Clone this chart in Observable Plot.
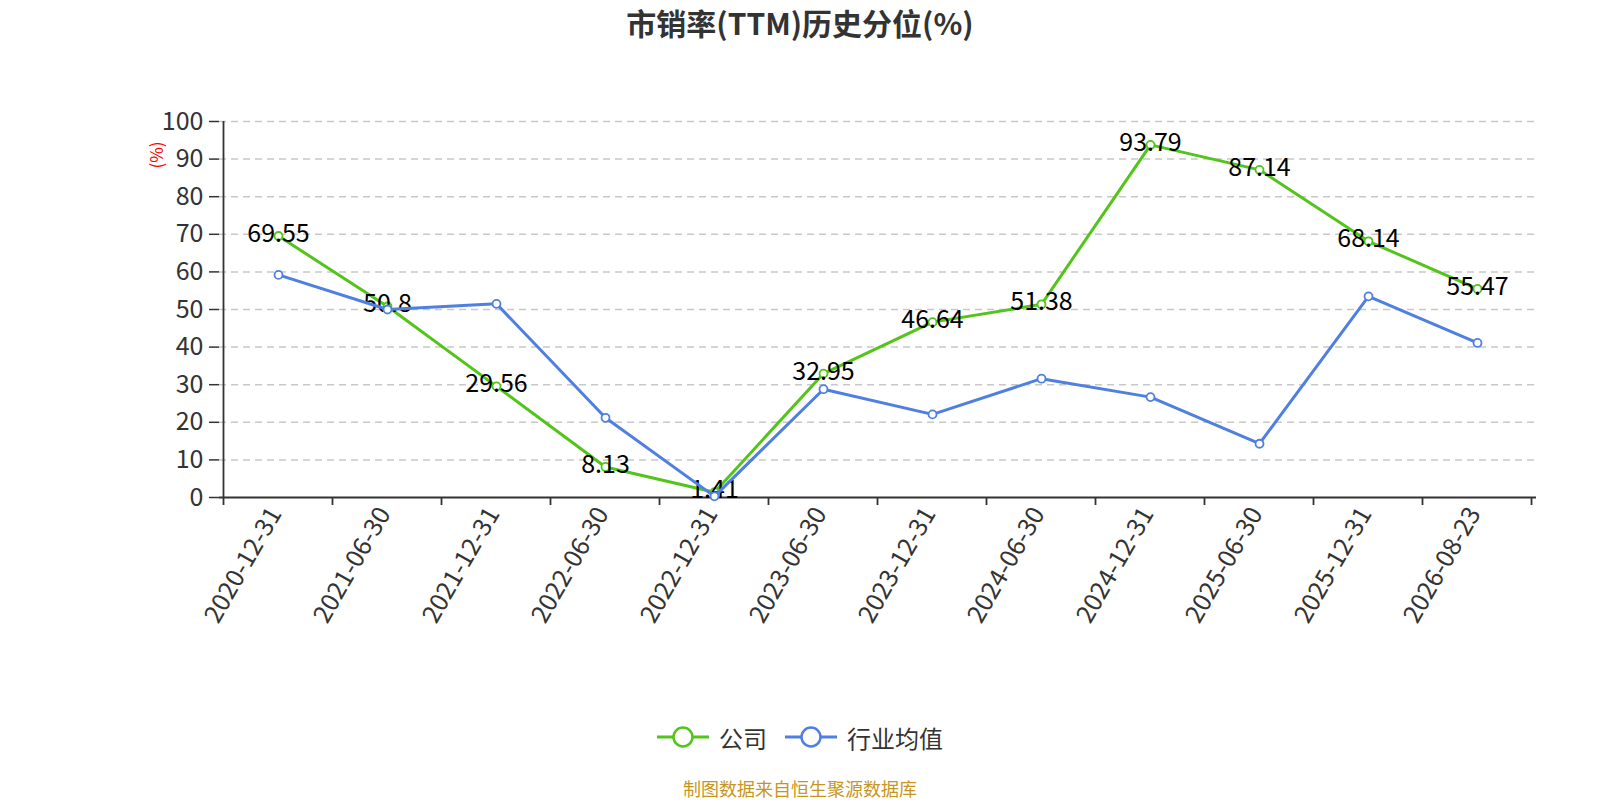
<!DOCTYPE html>
<html><head><meta charset="utf-8">
<script src="https://cdn.jsdelivr.net/npm/d3@7"></script>
<script src="https://cdn.jsdelivr.net/npm/@observablehq/plot@0.6"></script>
<style>
body{margin:0;background:#fff;font-family:"Noto Sans CJK SC","Noto Sans",sans-serif;}
#wrap{position:relative;width:1600px;height:800px;overflow:hidden;}
#chart{position:absolute;left:0;top:0;}
#title{position:absolute;left:0;width:1600px;top:2px;text-align:center;font-size:30px;font-weight:bold;color:#333;line-height:40px;}
#ylabel{position:absolute;left:156px;top:155px;transform:translate(-50%,-50%) rotate(-90deg);color:#f00;font-size:17px;line-height:18px;white-space:nowrap;}
#legend{position:absolute;left:0;width:1600px;top:720px;height:34px;display:flex;justify-content:center;align-items:center;font-size:24px;color:#333;}
#legend .item{display:flex;align-items:center;margin:0 9px;}
#legend svg{margin-right:10px;}
#caption{position:absolute;left:0;width:1600px;top:776px;text-align:center;font-size:18px;color:#c8961e;line-height:24px;}
</style></head><body>
<div id="wrap">
<div id="chart"></div>
<div id="title">市销率(TTM)历史分位(%)</div>
<div id="ylabel">(%)</div>
<div id="legend"></div>
<div id="caption">制图数据来自恒生聚源数据库</div>
</div>
<script>
const dates = ["2020-12-31","2021-06-30","2021-12-31","2022-06-30","2022-12-31","2023-06-30","2023-12-31","2024-06-30","2024-12-31","2025-06-30","2025-12-31","2026-08-23"];
const company = [69.55, 50.8, 29.56, 8.13, 1.41, 32.95, 46.64, 51.38, 93.79, 87.14, 68.14, 55.47];
const industry = [59.2, 50.0, 51.5, 21.2, 0.3, 28.8, 22.1, 31.6, 26.7, 14.3, 53.5, 41.1];
const seriesNames = ["公司", "行业均值"];
const seriesColors = ["#52c41a", "#4e7fe1"];
const yTicks = [0,10,20,30,40,50,60,70,80,90,100];

const companyRows = dates.map((d,i)=>({date:d, value:company[i], series:seriesNames[0]}));
const industryRows = dates.map((d,i)=>({date:d, value:industry[i], series:seriesNames[1]}));

const chart = Plot.plot({
  width:1600, height:800,
  marginLeft:219, marginRight:64, marginTop:121, marginBottom:303,
  x:{type:"point", domain:dates, padding:0.5},
  y:{domain:[0,100]},
  style:{fontFamily:'"Noto Sans CJK SC","Noto Sans",sans-serif', background:"transparent", color:"#333", overflow:"visible"},
  marks:[
    Plot.gridY(yTicks.slice(1), {stroke:"#c8c8c8", strokeOpacity:1, strokeDasharray:"7,5", strokeWidth:1.5}),
    Plot.axisY(yTicks, {tickSize:10, tickPadding:6, fontSize:25, fill:"#333", stroke:"#333", strokeWidth:1.5, label:null}),
    Plot.axisX({tickSize:0, tickRotate:-60, tickPadding:12, fontSize:25, fill:"#333", label:null, dx:-3}),
    Plot.ruleY([0], {stroke:"#333", strokeWidth:1.8}),
    Plot.line(companyRows, {x:"date", y:"value", stroke:seriesColors[0], strokeWidth:3}),
    Plot.dot(companyRows, {x:"date", y:"value", stroke:seriesColors[0], fill:"white", r:4, strokeWidth:1.8}),
    Plot.text(companyRows, {x:"date", y:"value", text:d=>String(d.value), fontSize:25, fill:"#000", dy:-2}),
    Plot.line(industryRows, {x:"date", y:"value", stroke:seriesColors[1], strokeWidth:3}),
    Plot.dot(industryRows, {x:"date", y:"value", stroke:seriesColors[1], fill:"white", r:4, strokeWidth:1.8})
  ]
});
document.getElementById("chart").appendChild(chart);

// axis line on the left and boundary ticks on the x axis, positioned from the scales
const xs = chart.scale("x"), ys = chart.scale("y");
const svg = d3.select(chart);
const y0 = ys.apply(0), y100 = ys.apply(100);
const step = xs.step;
const bounds = dates.map(d => xs.apply(d) - step/2).concat([xs.apply(dates[dates.length-1]) + step/2]);
const g = svg.append("g").attr("stroke","#333").attr("stroke-width",1.8);
g.append("line").attr("x1",bounds[0]).attr("x2",bounds[0]).attr("y1",y100).attr("y2",y0);
g.selectAll("line.bt").data(bounds).join("line").attr("class","bt")
  .attr("x1",d=>d).attr("x2",d=>d).attr("y1",y0).attr("y2",y0+8);

// legend
const legend = d3.select("#legend");
seriesNames.forEach((name,i)=>{
  const it = legend.append("div").attr("class","item");
  const s = it.append("svg").attr("width",52).attr("height",24);
  s.append("line").attr("x1",0).attr("x2",52).attr("y1",12).attr("y2",12).attr("stroke",seriesColors[i]).attr("stroke-width",3);
  s.append("circle").attr("cx",26).attr("cy",12).attr("r",9.5).attr("fill","white").attr("stroke",seriesColors[i]).attr("stroke-width",2.5);
  it.append("span").text(name);
});
</script>
</body></html>
